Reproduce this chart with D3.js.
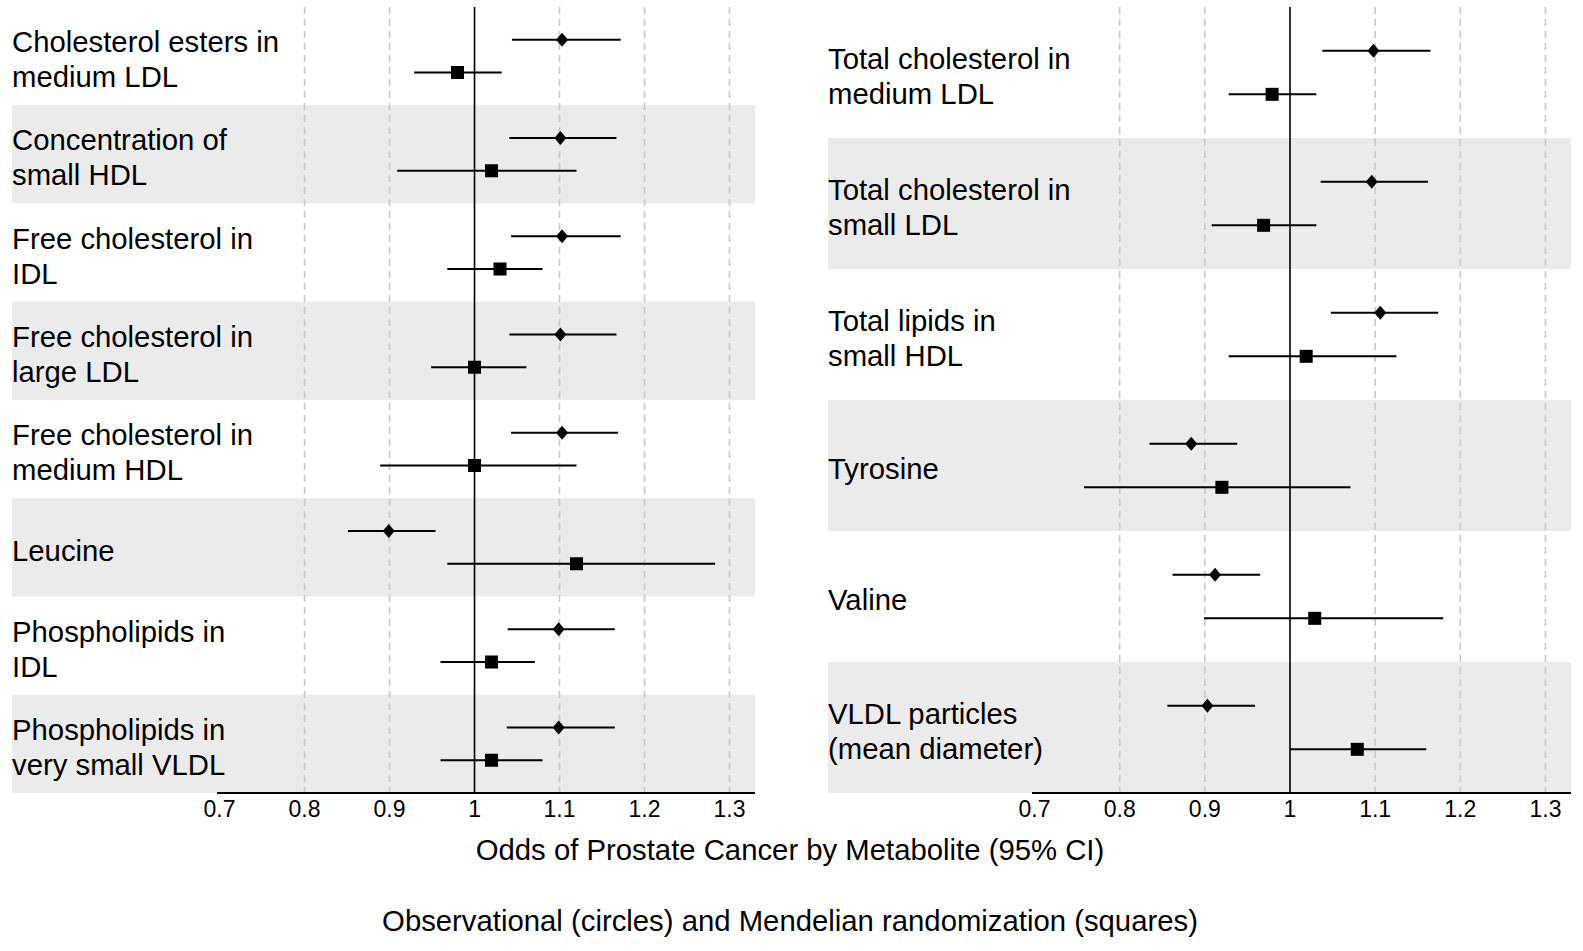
<!DOCTYPE html>
<html>
<head>
<meta charset="utf-8">
<script src="https://cdn.jsdelivr.net/npm/d3@7"></script>
<style>
body { margin: 0; background: #fff; }
text { font-family: "Liberation Sans", Arial, sans-serif; fill: #000; }
</style>
</head>
<body>
<svg id="chart" width="1583" height="951"></svg>
<script>
// left panel
var leftLabels = ["Cholesterol esters in\nmedium LDL", "Concentration of\nsmall HDL", "Free cholesterol in\nIDL",
    "Free cholesterol in\nlarge LDL", "Free cholesterol in\nmedium HDL", "Leucine", "Phospholipids in\nIDL",
    "Phospholipids in\nvery small VLDL"];
var leftObs   = [1.103, 1.101, 1.103, 1.101, 1.103, 0.899, 1.099, 1.099];
var leftObsLo = [1.044, 1.041, 1.043, 1.041, 1.043, 0.851, 1.039, 1.038];
var leftObsHi = [1.172, 1.167, 1.172, 1.167, 1.169, 0.954, 1.165, 1.165];
var leftMr    = [0.980, 1.020, 1.030, 1.000, 1.000, 1.120, 1.020, 1.020];
var leftMrLo  = [0.929, 0.909, 0.968, 0.949, 0.889, 0.968, 0.960, 0.960];
var leftMrHi  = [1.032, 1.120, 1.080, 1.061, 1.120, 1.283, 1.071, 1.080];

// right panel
var rightLabels = ["Total cholesterol in\nmedium LDL", "Total cholesterol in\nsmall LDL", "Total lipids in\nsmall HDL",
    "Tyrosine", "Valine", "VLDL particles\n(mean diameter)"];
var rightObs   = [1.098, 1.096, 1.106, 0.884, 0.912, 0.903];
var rightObsLo = [1.038, 1.036, 1.048, 0.835, 0.862, 0.856];
var rightObsHi = [1.165, 1.162, 1.174, 0.938, 0.965, 0.959];
var rightMr    = [0.979, 0.969, 1.019, 0.920, 1.029, 1.079];
var rightMrLo  = [0.928, 0.908, 0.928, 0.758, 0.899, 1.000];
var rightMrHi  = [1.031, 1.031, 1.125, 1.071, 1.180, 1.160];

var tickValues = [0.7, 0.8, 0.9, 1, 1.1, 1.2, 1.3];
var xTitle = "Odds of Prostate Cancer by Metabolite (95% CI)";
var caption = "Observational (circles) and Mendelian randomization (squares)";

var svg = d3.select("#chart");
var plotTop = 7, plotBottom = 793;
var fontsize = 29.3, lineHeight = 35;

function panel(labels, obs, obsLo, obsHi, mr, mrLo, mrHi, labelX, x0, x1) {
    var g = svg.append("g");
    var n = labels.length;
    var x = d3.scaleLinear().domain([0.697, 1.33]).range([x0, x1]);
    var y = d3.scaleBand().domain(d3.range(n)).range([plotTop, plotBottom]);
    var bw = y.bandwidth();
    var rows = d3.range(n);

    // alternating row shading, covers the label column too
    g.selectAll("rect.band").data(rows.filter(function(i) { return i % 2 == 1; })).enter()
        .append("rect")
            .attr("x", labelX)
            .attr("y", function(i) { return y(i); })
            .attr("width", x1 - labelX)
            .attr("height", bw)
            .attr("fill", "#ebebeb");

    g.selectAll("line.grid").data(tickValues.filter(function(t) { return t != 0.7 && t != 1; })).enter()
        .append("line")
            .attr("x1", function(t) { return x(t); })
            .attr("x2", function(t) { return x(t); })
            .attr("y1", plotTop)
            .attr("y2", plotBottom)
            .attr("stroke", "#c8c8c8")
            .attr("stroke-width", 1.6)
            .attr("stroke-dasharray", "7,5");

    g.append("line")
        .attr("x1", x(1)).attr("x2", x(1))
        .attr("y1", plotTop).attr("y2", plotBottom)
        .attr("stroke", "#000")
        .attr("stroke-width", 1.6);

    // labels, vertically centred a little below the row middle
    g.selectAll("text.label").data(rows).enter()
        .append("text")
            .attr("font-size", fontsize + "px")
            .each(function(i) {
                var lines = labels[i].split("\n");
                var base = y(i) + bw / 2 + 3 + 10.5 - (lines.length - 1) * lineHeight / 2;
                d3.select(this).selectAll("tspan").data(lines).enter()
                    .append("tspan")
                        .attr("x", labelX)
                        .attr("y", function(d, k) { return base + k * lineHeight; })
                        .text(function(d) { return d; });
            });

    // observational CI + diamond
    g.selectAll("line.obs").data(rows).enter()
        .append("line")
            .attr("x1", function(i) { return x(obsLo[i]); })
            .attr("x2", function(i) { return x(obsHi[i]); })
            .attr("y1", function(i) { return y(i) + bw / 3; })
            .attr("y2", function(i) { return y(i) + bw / 3; })
            .attr("stroke", "#000")
            .attr("stroke-width", 2);

    g.selectAll("path.obs").data(rows).enter()
        .append("path")
            .attr("transform", function(i) { return "translate(" + x(obs[i]) + "," + (y(i) + bw / 3) + ")"; })
            .attr("d", "M0,-7L6,0L0,7L-6,0Z")
            .attr("fill", "#000");

    // mendelian randomization CI + square
    g.selectAll("line.mr").data(rows).enter()
        .append("line")
            .attr("x1", function(i) { return x(mrLo[i]); })
            .attr("x2", function(i) { return x(mrHi[i]); })
            .attr("y1", function(i) { return y(i) + 2 * bw / 3; })
            .attr("y2", function(i) { return y(i) + 2 * bw / 3; })
            .attr("stroke", "#000")
            .attr("stroke-width", 2);

    g.selectAll("rect.mr").data(rows).enter()
        .append("rect")
            .attr("x", function(i) { return x(mr[i]) - 6.5; })
            .attr("y", function(i) { return y(i) + 2 * bw / 3 - 6.5; })
            .attr("width", 13)
            .attr("height", 13)
            .attr("fill", "#000");

    // bottom axis
    g.append("line")
        .attr("x1", x0).attr("x2", x1)
        .attr("y1", plotBottom).attr("y2", plotBottom)
        .attr("stroke", "#000")
        .attr("stroke-width", 2);

    g.selectAll("text.tick").data(tickValues).enter()
        .append("text")
            .attr("x", function(t) { return x(t); })
            .attr("y", 817)
            .attr("text-anchor", "middle")
            .attr("font-size", "23px")
            .text(function(t) { return String(t); });
}

panel(leftLabels, leftObs, leftObsLo, leftObsHi, leftMr, leftMrLo, leftMrHi, 12, 217, 755);
panel(rightLabels, rightObs, rightObsLo, rightObsHi, rightMr, rightMrLo, rightMrHi, 828, 1032, 1571);

svg.append("text")
    .attr("x", 790).attr("y", 860)
    .attr("text-anchor", "middle")
    .attr("font-size", fontsize + "px")
    .text(xTitle);

svg.append("text")
    .attr("x", 790).attr("y", 931)
    .attr("text-anchor", "middle")
    .attr("font-size", fontsize + "px")
    .text(caption);
</script>
</body>
</html>
